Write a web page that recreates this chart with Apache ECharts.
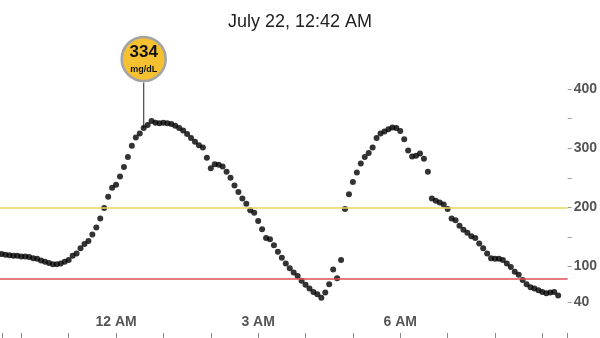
<!DOCTYPE html>
<html>
<head>
<meta charset="utf-8">
<script src="https://cdn.jsdelivr.net/npm/echarts@6/dist/echarts.min.js"></script>
<style>
  html, body { margin: 0; padding: 0; background: #fff; }
  #chart { width: 600px; height: 338px; }
</style>
</head>
<body>
<div id="chart"></div>
<script>
// ---- data (minutes relative to 12 AM, CGM reading every 5 min) ----
const titleText = 'July 22, 12:42 AM';
const startMinute = -150;
const stepMinutes = 5;
const glucose = [
  121, 121, 120, 119, 118, 118, 117, 117, 116, 114,
  113, 110, 108, 106, 104, 104, 105, 108, 111, 118,
  122, 131, 138, 143, 154, 166, 181, 199, 218, 233,
  238, 252, 268, 285, 304, 318, 325, 334, 339, 346,
  343, 342, 343, 342, 341, 338, 334, 330, 324, 317,
  311, 305, 301, 284, 266, 273, 272, 269, 260, 250,
  237, 226, 215, 206, 195, 191, 177, 163, 148, 146,
  136, 125, 115, 105, 97, 90, 84, 76, 69, 63,
  57, 53, 47, 56, 70, 95, 80, 111, 197, 222,
  243, 259, 274, 285, 292, 301, 317, 325, 328, 332,
  335, 334, 329, 315, 296, 286, 287, 291, 282, 260,
  215, 211, 208, 205, 197, 181, 178, 169, 162, 157,
  151, 148, 139, 131, 122, 114, 113, 113, 111, 105,
  99, 91, 86, 77, 70, 65, 63, 60, 57, 55,
  56, 57, 51
];
const highlightIndex = 37;
const highlightValue = 334;
const highlightUnit = 'mg/dL';
const stemTopValue = 411;
const highLimit = 200;
const lowLimit = 80;
const xTickMinutes = [-144, -120, -60, 0, 60, 120, 180, 240, 300, 360, 420, 480, 540, 572];
const xLabelMinutes = [0, 180, 360];
const xLabelTexts = ['12 AM', '3 AM', '6 AM'];
const yTickValues = [40, 100, 150, 200, 250, 300, 350, 400];
const yLabelValues = [40, 100, 200, 300, 400];

// ---- build ----
const points = glucose.map((v, i) => [startMinute + i * stepMinutes, v]);
const hlTime = startMinute + highlightIndex * stepMinutes;

const chart = echarts.init(document.getElementById('chart'), null, { renderer: 'canvas' });
const font = '"Liberation Sans", Helvetica, Arial, sans-serif';

chart.setOption({
  animation: false,
  backgroundColor: '#ffffff',
  title: {
    text: titleText,
    left: 'center',
    top: 8,
    textStyle: { fontFamily: font, fontSize: 18, fontWeight: 'normal', color: '#222' }
  },
  grid: { left: 0, width: 568, top: 89, bottom: 36, containLabel: false },
  xAxis: {
    type: 'value',
    min: -147,
    max: 572,
    offset: 36,
    axisLine: { show: false, onZero: false },
    splitLine: { show: false },
    axisTick: {
      show: true,
      inside: true,
      length: 5,
      customValues: xTickMinutes,
      lineStyle: { color: '#888', width: 1 }
    },
    axisLabel: {
      show: true,
      inside: true,
      margin: 9,
      customValues: xLabelMinutes,
      formatter: (v) => {
        const i = xLabelMinutes.indexOf(v);
        return i >= 0 ? xLabelTexts[i] : '';
      },
      fontFamily: font,
      fontSize: 14,
      fontWeight: 'bold',
      color: '#555'
    }
  },
  yAxis: {
    type: 'value',
    position: 'right',
    min: 40,
    max: 400,
    axisLine: { show: false, onZero: false },
    splitLine: { show: false },
    axisTick: {
      show: true,
      length: 4,
      customValues: yTickValues,
      lineStyle: { color: '#999', width: 1 }
    },
    axisLabel: {
      show: true,
      margin: 6,
      customValues: yLabelValues,
      fontFamily: font,
      fontSize: 14,
      fontWeight: 'bold',
      color: '#555'
    }
  },
  series: [{
    type: 'line',
    data: [[hlTime, highlightValue], [hlTime, stemTopValue]],
    clip: false,
    symbol: 'none',
    silent: true,
    lineStyle: { color: '#444', width: 1.2 },
    z: 2
  }, {
    type: 'scatter',
    data: points,
    clip: false,
    symbol: 'circle',
    symbolSize: 6,
    itemStyle: { color: '#000' },
    silent: true,
    z: 3,
    markLine: {
      silent: true,
      symbol: 'none',
      label: { show: false },
      animation: false,
      data: [
        { yAxis: highLimit, lineStyle: { color: '#e9d65e', width: 1.5, type: 'solid' } },
        { yAxis: lowLimit, lineStyle: { color: '#dd4f55', width: 1.5, type: 'solid' } }
      ]
    },
    markPoint: {
      silent: true,
      animation: false,
      data: [{
        coord: [hlTime, highlightValue],
        value: highlightValue,
        symbol: 'circle',
        symbolSize: 44,
        symbolOffset: [0, -69],
        itemStyle: { color: '#f6c130', borderColor: '#a3a3a3', borderWidth: 2.5 },
        label: {
          show: true,
          position: 'inside',
          formatter: '{a|' + highlightValue + '}\n{b|' + highlightUnit + '}',
          rich: {
            a: { fontFamily: font, fontSize: 17, fontWeight: 'bold', color: '#111', lineHeight: 20, align: 'center' },
            b: { fontFamily: font, fontSize: 9, fontWeight: 'bold', color: '#111', lineHeight: 14, align: 'center' }
          }
        }
      }]
    }
  }]
});
</script>
</body>
</html>
